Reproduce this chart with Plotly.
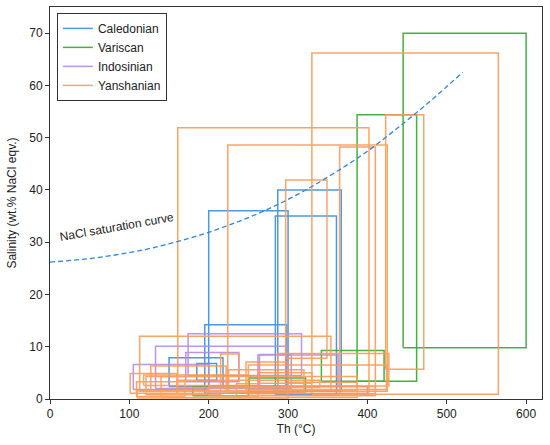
import plotly.graph_objects as go

# fluid inclusion boxes: Th min, Th max, salinity min, salinity max
groups = ["Caledonian", "Variscan", "Indosinian", "Yanshanian"]
colors = ["#3d8ddc", "#2eaa2e", "#b48be0", "#fd9a55"]

caledonian_th = [(200, 300), (287, 367), (284, 361), (195, 298), (150, 218), (185, 210)]
caledonian_sal = [(2.5, 36.0), (1.5, 40.0), (0.8, 35.0), (1.1, 14.2), (2.4, 7.9), (3.6, 6.8)]

variscan_th = [(445, 600), (387, 462), (342, 421), (251, 322), (180, 250)]
variscan_sal = [(9.8, 70.0), (3.4, 54.4), (3.4, 9.3), (1.4, 4.0), (0.6, 2.4)]

indosinian_th = [(174, 317), (133, 297), (171, 238), (105, 200), (264, 304), (300, 400), (262, 363)]
indosinian_sal = [(4.5, 12.5), (2.0, 10.1), (3.3, 8.9), (1.8, 6.6), (2.0, 8.5), (1.0, 2.4), (2.4, 8.4)]

yanshanian_th = [(161, 402), (224, 425), (365, 410), (297, 349), (330, 565), (423, 471),
                 (113, 354), (101, 160), (109, 170), (121, 215), (127, 222), (215, 238),
                 (247, 300), (287, 427), (250, 424), (140, 387), (160, 340), (200, 410),
                 (263, 330), (110, 300), (225, 320), (300, 387), (118, 250), (235, 262)]
yanshanian_sal = [(1.1, 51.9), (1.5, 48.6), (1.0, 48.2), (7.8, 41.9), (0.9, 66.2), (5.7, 54.4),
                  (1.5, 12.0), (1.1, 4.9), (0.5, 3.3), (0.8, 4.3), (1.5, 6.3), (3.5, 8.6),
                  (1.0, 7.1), (2.5, 8.7), (1.8, 6.5), (0.3, 4.3), (2.2, 3.6), (0.6, 2.4),
                  (3.0, 5.0), (0.2, 1.6), (1.2, 5.6), (1.6, 3.2), (2.6, 4.6), (0.4, 2.9)]

# NaCl saturation curve
curve_t = [0, 40, 80, 120, 160, 200, 240, 280, 320, 360, 400, 440, 480, 520]
curve_s = [26.2, 26.7, 27.5, 28.6, 30.1, 31.9, 34.1, 36.7, 39.8, 43.4, 47.4, 52.1, 57.1, 62.5]

data = [(caledonian_th, caledonian_sal), (variscan_th, variscan_sal),
        (indosinian_th, indosinian_sal), (yanshanian_th, yanshanian_sal)]

fig = go.Figure()

for name, color, (th, sal) in zip(groups, colors, data):
    xs, ys = [], []
    for (x0, x1), (y0, y1) in zip(th, sal):
        xs += [x0, x1, x1, x0, x0, None]
        ys += [y0, y0, y1, y1, y0, None]
    fig.add_trace(go.Scatter(x=xs, y=ys, mode="lines", name=name,
                             line=dict(color=color, width=1.5), opacity=0.9))

fig.add_trace(go.Scatter(x=curve_t, y=curve_s, mode="lines", showlegend=False,
                         line=dict(color="#2f86d8", width=1.3, dash="5px,3px", shape="spline")))

fig.add_annotation(x=84, y=32.9, text="NaCl saturation curve", showarrow=False,
                   textangle=-10, font=dict(size=12, color="#222"))

axis_style = dict(showline=True, linecolor="#333", linewidth=1, mirror=True,
                  ticks="outside", ticklen=4, tickcolor="#333", showgrid=False,
                  zeroline=False, automargin=False, tickfont=dict(size=12, color="#222"))

fig.update_xaxes(range=[0, 620], dtick=100, title=dict(text="Th (°C)", font=dict(size=12), standoff=4),
                 **axis_style)
fig.update_yaxes(range=[0, 75], dtick=10, title=dict(text="Salinity (wt.% NaCl eqv.)", font=dict(size=12), standoff=10),
                 **axis_style)

fig.update_layout(
    width=550, height=445,
    margin=dict(l=50, r=8, t=7, b=46),
    plot_bgcolor="white", paper_bgcolor="white",
    font=dict(family="Liberation Sans, Arial, sans-serif", color="#222"),
    legend=dict(x=0.014, y=0.985, xanchor="left", yanchor="top",
                bordercolor="#333", borderwidth=1, bgcolor="white",
                font=dict(size=12), tracegroupgap=0, itemwidth=30),
)

fig.write_html("out.html", config={"displayModeBar": False},
               post_script="document.body.style.margin='0';")
